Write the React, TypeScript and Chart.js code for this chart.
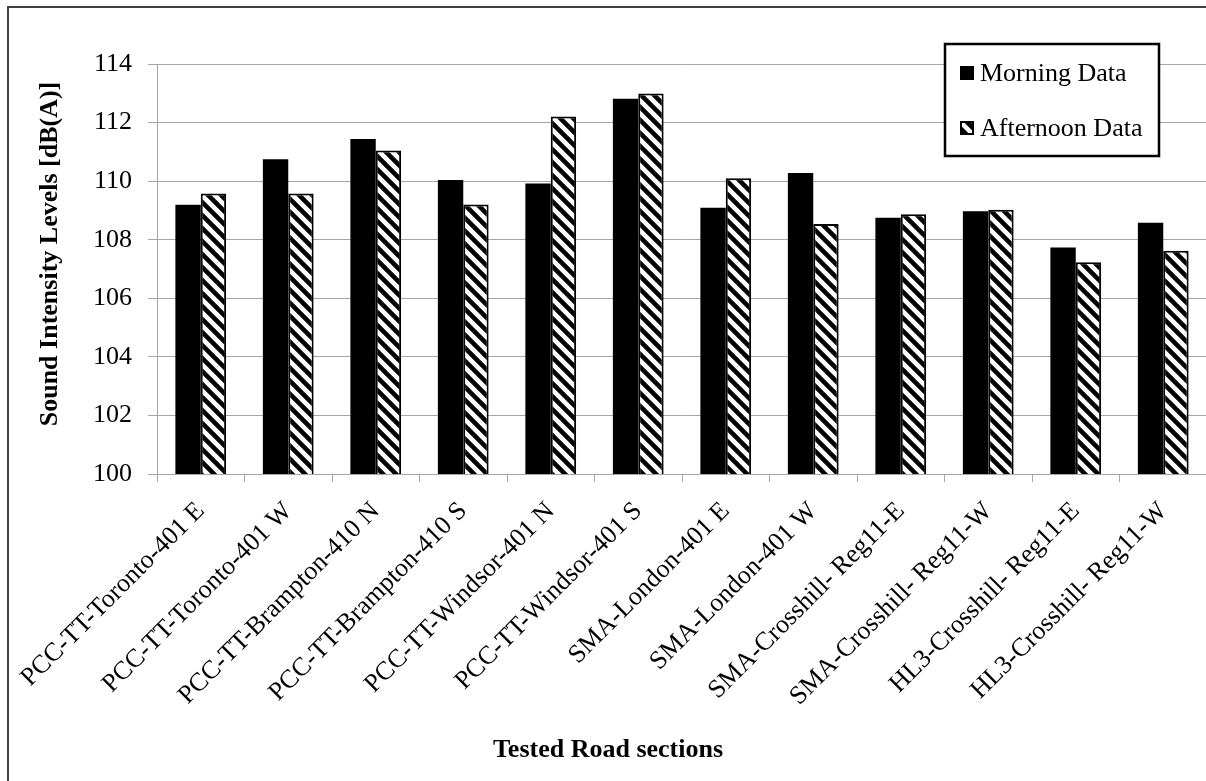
import React, { useEffect, useRef } from "react";
import { Chart, registerables } from "chart.js";

Chart.register(...registerables);

const categories = [
  "PCC-TT-Toronto-401 E",
  "PCC-TT-Toronto-401 W",
  "PCC-TT-Brampton-410 N",
  "PCC-TT-Brampton-410 S",
  "PCC-TT-Windsor-401 N",
  "PCC-TT-Windsor-401 S",
  "SMA-London-401 E",
  "SMA-London-401 W",
  "SMA-Crosshill- Reg11-E",
  "SMA-Crosshill- Reg11-W",
  "HL3-Crosshill- Reg11-E",
  "HL3-Crosshill- Reg11-W",
];

const morningData = [109.19, 110.75, 111.44, 110.04, 109.92, 112.81, 109.09, 110.28, 108.75, 108.97, 107.73, 108.58];
const afternoonData = [109.58, 109.58, 111.05, 109.2, 112.21, 112.99, 110.1, 108.54, 108.87, 109.02, 107.23, 107.62];

const seriesNames = ["Morning Data", "Afternoon Data"];
const yMin = 100;
const yMax = 114;
const yStep = 2;
const xAxisTitle = "Tested Road sections";
const yAxisTitle = "Sound Intensity Levels [dB(A)]";

const FONT = "'Liberation Serif', 'Times New Roman', serif";
const GRID = "#a6a6a6";

function makeHatch(): CanvasPattern | string {
  const size = 13;
  const c = document.createElement("canvas");
  c.width = size;
  c.height = size;
  const ctx = c.getContext("2d");
  if (!ctx) return "#888";
  ctx.fillStyle = "#ffffff";
  ctx.fillRect(0, 0, size, size);
  ctx.strokeStyle = "#000000";
  ctx.lineWidth = 4.6;
  ctx.beginPath();
  for (let k = -1; k <= 1; k++) {
    ctx.moveTo(-3, -3 + k * size);
    ctx.lineTo(size + 3, size + 3 + k * size);
  }
  ctx.stroke();
  return ctx.createPattern(c, "repeat") || "#888";
}

const decorPlugin = {
  id: "decor",
  beforeDraw(chart: any) {
    const ctx = chart.ctx;
    ctx.save();
    ctx.fillStyle = "#ffffff";
    ctx.fillRect(0, 0, chart.width, chart.height);
    ctx.restore();
  },
  afterDraw(chart: any) {
    const ctx = chart.ctx;
    const area = chart.chartArea;
    ctx.save();
    // outer frame
    ctx.strokeStyle = "#404040";
    ctx.lineWidth = 2;
    ctx.beginPath();
    ctx.moveTo(8, chart.height + 5);
    ctx.lineTo(8, 7);
    ctx.lineTo(chart.width + 5, 7);
    ctx.stroke();

    // legend box
    const bx = area.right - 262;
    const by = area.top - 20;
    const bw = 214;
    const bh = 112;
    ctx.fillStyle = "#ffffff";
    ctx.fillRect(bx, by, bw, bh);
    ctx.strokeStyle = "#000000";
    ctx.lineWidth = 2.5;
    ctx.strokeRect(bx, by, bw, bh);

    ctx.font = `26px ${FONT}`;
    ctx.textBaseline = "middle";
    ctx.textAlign = "left";
    const rows = [by + 29, by + 84];
    chart.data.datasets.forEach((ds: any, i: number) => {
      const cy = rows[i];
      const mx = bx + 15;
      ctx.fillStyle = ds.backgroundColor;
      ctx.fillRect(mx, cy - 7, 14, 14);
      if (ds.borderWidth) {
        ctx.strokeStyle = "#000";
        ctx.lineWidth = 2;
        ctx.strokeRect(mx + 1, cy - 6, 12, 12);
      }
      ctx.fillStyle = "#000";
      ctx.fillText(ds.label, mx + 20, cy + 1);
    });

    // axis titles
    ctx.font = `bold 26px ${FONT}`;
    ctx.textAlign = "center";
    ctx.textBaseline = "middle";
    ctx.fillStyle = "#000";
    ctx.fillText(xAxisTitle, 608, 750);

    ctx.translate(50, 254);
    ctx.rotate(-Math.PI / 2);
    ctx.fillText(yAxisTitle, 0, 0);
    ctx.restore();
  },
};

export default function App() {
  const ref = useRef<HTMLCanvasElement | null>(null);

  useEffect(() => {
    if (!ref.current) return;
    const hatch = makeHatch();
    const chart = new Chart(ref.current, {
      type: "bar",
      data: {
        labels: categories,
        datasets: [
          {
            label: seriesNames[0],
            data: morningData,
            backgroundColor: "#000000",
            borderWidth: 0,
            categoryPercentage: 0.58,
            barPercentage: 1,
          },
          {
            label: seriesNames[1],
            data: afternoonData,
            backgroundColor: hatch as any,
            borderColor: "#000000",
            borderWidth: 2,
            categoryPercentage: 0.58,
            barPercentage: 1,
          },
        ],
      },
      options: {
        animation: false,
        responsive: false,
        devicePixelRatio: 1,
        layout: { padding: { top: 64, right: 5, bottom: 0, left: 0 } },
        plugins: {
          legend: { display: false },
          tooltip: { enabled: false },
          title: { display: false },
        },
        scales: {
          x: {
            grid: {
              display: true,
              drawOnChartArea: false,
              drawTicks: true,
              tickLength: 8,
              color: GRID,
              offset: true,
            },
            border: { display: true, color: GRID, width: 1 },
            ticks: {
              autoSkip: false,
              minRotation: 45,
              maxRotation: 45,
              padding: 14,
              color: "#000",
              font: { family: FONT, size: 26 },
            },
            afterFit: (s: any) => {
              s.height = 307;
            },
          },
          y: {
            min: yMin,
            max: yMax,
            ticks: {
              stepSize: yStep,
              padding: 16,
              color: "#000",
              font: { family: FONT, size: 26 },
            },
            grid: { color: GRID, lineWidth: 1, tickLength: 9, drawTicks: true },
            border: { display: true, color: GRID, width: 1 },
            title: { display: false },
            afterFit: (s: any) => {
              s.width = 157;
            },
          },
        },
      },
      plugins: [decorPlugin],
    });
    return () => chart.destroy();
  }, []);

  return (
    <div
      style={{
        position: "fixed",
        left: 0,
        top: 0,
        width: 1206,
        height: 781,
        overflow: "hidden",
        background: "#fff",
      }}
    >
      <canvas ref={ref} width={1212} height={781} style={{ display: "block" }} />
    </div>
  );
}
